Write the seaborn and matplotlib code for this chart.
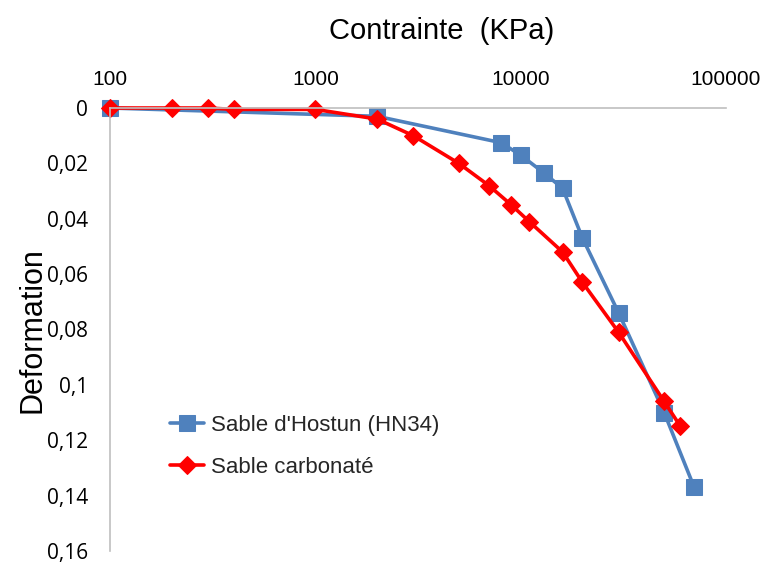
import matplotlib
matplotlib.use("Agg")
import matplotlib.pyplot as plt
import seaborn as sns
import pandas as pd
from matplotlib.ticker import FixedLocator, FixedFormatter, NullLocator

# ---- data ----
hostun_x = [100, 2000, 8000, 10000, 13000, 16000, 20000, 30000, 50000, 70000]
hostun_y = [0.0, 0.003, 0.0125, 0.017, 0.0235, 0.029, 0.047, 0.074, 0.110, 0.137]
carb_x = [100, 200, 300, 400, 1000, 2000, 3000, 5000, 7000, 9000, 11000, 16000, 20000, 30000, 50000, 60000]
carb_y = [0.0, 0.0, 0.0, 0.0005, 0.0005, 0.004, 0.010, 0.020, 0.028, 0.035, 0.041, 0.052, 0.063, 0.081, 0.106, 0.115]
series_names = ["Sable d'Hostun (HN34)", "Sable carbonaté"]
x_ticks = [100, 1000, 10000, 100000]
x_ticklabels = ["100", "1000", "10000", "100000"]
y_ticks = [0, 0.02, 0.04, 0.06, 0.08, 0.10, 0.12, 0.14, 0.16]
y_ticklabels = ["0", "0,02", "0,04", "0,06", "0,08", "0,1", "0,12", "0,14", "0,16"]

df = pd.concat([
    pd.DataFrame({"x": hostun_x, "y": hostun_y, "serie": series_names[0]}),
    pd.DataFrame({"x": carb_x, "y": carb_y, "serie": series_names[1]}),
], ignore_index=True)

sns.set_theme(style="white")
plt.rcParams["font.family"] = ["Liberation Sans", "DejaVu Sans"]

fig = plt.figure(figsize=(7.68, 5.64), dpi=100)
# axes: x from px 110 to 726, y from px 108 to 551
ax = fig.add_axes([110 / 768, 1 - 551 / 564, 616 / 768, 443 / 564])

palette = {series_names[0]: "#4F81BD", series_names[1]: "#FF0000"}
markers = {series_names[0]: "s", series_names[1]: "D"}
sizes_m = {series_names[0]: 11, series_names[1]: 9}

for name in series_names:
    sub = df[df["serie"] == name]
    sns.lineplot(data=sub, x="x", y="y", ax=ax, color=palette[name],
                 marker=markers[name], markersize=sizes_m[name],
                 markeredgecolor=palette[name], linewidth=2.6,
                 sort=False, estimator=None, label=name)

ax.set_xscale("log")
ax.set_xlim(100, 100000)
ax.set_ylim(0.16, 0)

ax.xaxis.set_major_locator(FixedLocator(x_ticks))
ax.xaxis.set_major_formatter(FixedFormatter(x_ticklabels))
ax.xaxis.set_minor_locator(NullLocator())
ax.yaxis.set_major_locator(FixedLocator(y_ticks))
ax.yaxis.set_major_formatter(FixedFormatter(y_ticklabels))

ax.xaxis.tick_top()
ax.xaxis.set_label_position("top")
ax.tick_params(axis="x", length=0, pad=14, labelsize=15, colors="#000000",
               top=True, bottom=False, labeltop=True, labelbottom=False)
ax.tick_params(axis="y", length=0, pad=16, labelsize=15, colors="#000000")
for lab in ax.get_yticklabels():
    lab.set_family(["Open Sans", "DejaVu Sans"])

ax.set_xlabel("Contrainte  (KPa)", fontsize=21, color="#000000")
ax.xaxis.set_label_coords((442 - 110) / 616, 1 + (108 - 31) / 443)
ax.xaxis.label.set_va("center")
ax.set_ylabel("Deformation", fontsize=22, color="#000000")
ax.yaxis.set_label_coords((32 - 110) / 616, 1 - (330 - 108) / 443)
ax.yaxis.label.set_va("center")

for side in ["right", "bottom"]:
    ax.spines[side].set_visible(False)
for side in ["left", "top"]:
    ax.spines[side].set_color("#BFBFBF")
    ax.spines[side].set_linewidth(1.2)
for ln in ax.lines:
    ln.set_clip_on(False)

leg = ax.legend(loc="upper left", bbox_to_anchor=((170 - 110) / 616, 1 - (415 - 108) / 443),
                frameon=False, fontsize=16, handlelength=1.55, handletextpad=0.3,
                labelspacing=0.95, borderpad=0, borderaxespad=0)

fig.savefig("out.png", dpi=100)
